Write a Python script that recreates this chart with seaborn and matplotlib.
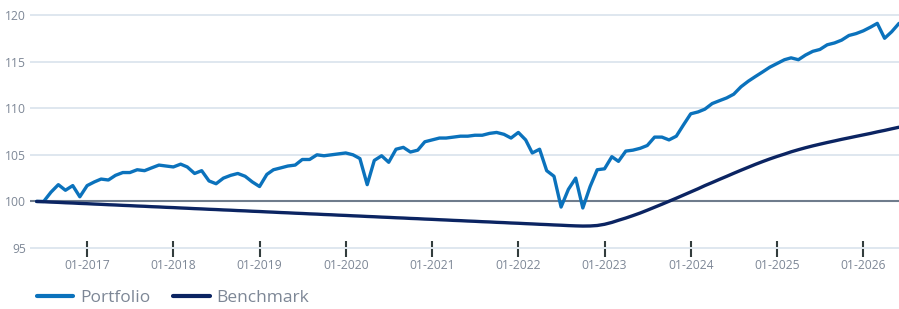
import numpy as np
import pandas as pd
import seaborn as sns
import matplotlib.pyplot as plt
import matplotlib.dates as mdates

sns.set_style('white')
plt.rcParams['font.family'] = ['Open Sans', 'DejaVu Sans']

# monthly points, 06-2016 .. 06-2026
months = pd.date_range('2016-06-01', periods=121, freq='MS')

portfolio = [
    100.0, 100.0, 101.0, 101.8, 101.2, 101.7, 100.5,
    101.7, 102.1, 102.4, 102.3, 102.8, 103.1, 103.1, 103.4, 103.3, 103.6, 103.9, 103.8,
    103.7, 104.0, 103.7, 103.0, 103.3, 102.2, 101.9, 102.5, 102.8, 103.0, 102.7, 102.1,
    101.6, 102.9, 103.4, 103.6, 103.8, 103.9, 104.5, 104.5, 105.0, 104.9, 105.0, 105.1,
    105.2, 105.0, 104.6, 101.8, 104.4, 104.9, 104.2, 105.6, 105.8, 105.3, 105.5, 106.4,
    106.6, 106.8, 106.8, 106.9, 107.0, 107.0, 107.1, 107.1, 107.3, 107.4, 107.2, 106.8,
    107.4, 106.6, 105.2, 105.6, 103.3, 102.7, 99.4, 101.3, 102.5, 99.3, 101.6, 103.4,
    103.5, 104.8, 104.3, 105.4, 105.5, 105.7, 106.0, 106.9, 106.9, 106.6, 107.0, 108.2,
    109.4, 109.6, 109.9, 110.5, 110.8, 111.1, 111.5, 112.3, 112.9, 113.4, 113.9, 114.4,
    114.8, 115.2, 115.4, 115.2, 115.7, 116.1, 116.3, 116.8, 117.0, 117.3, 117.8, 118.0,
    118.3, 118.7, 119.1, 117.5, 118.2, 119.1,
]

benchmark = [
    100.00, 99.97, 99.93, 99.90, 99.86, 99.83, 99.79,
    99.76, 99.72, 99.69, 99.65, 99.62, 99.58, 99.55, 99.51, 99.48, 99.44, 99.41, 99.37,
    99.34, 99.30, 99.27, 99.23, 99.20, 99.16, 99.13, 99.09, 99.06, 99.02, 98.99, 98.95,
    98.92, 98.88, 98.85, 98.81, 98.78, 98.74, 98.71, 98.67, 98.64, 98.60, 98.57, 98.53,
    98.50, 98.46, 98.43, 98.39, 98.36, 98.32, 98.29, 98.25, 98.22, 98.18, 98.15, 98.11,
    98.08, 98.04, 98.01, 97.97, 97.94, 97.90, 97.87, 97.83, 97.80, 97.76, 97.73, 97.69,
    97.66, 97.62, 97.59, 97.55, 97.52, 97.48, 97.45, 97.41, 97.38, 97.36, 97.37, 97.42,
    97.55, 97.75, 97.98, 98.22, 98.48, 98.76, 99.06, 99.38, 99.70, 100.02, 100.35, 100.68,
    101.02, 101.36, 101.70, 102.03, 102.36, 102.69, 103.02, 103.35, 103.67, 103.98, 104.28, 104.56,
    104.83, 105.08, 105.32, 105.55, 105.76, 105.96, 106.14, 106.32, 106.49, 106.66, 106.82, 106.98,
    107.14, 107.30, 107.46, 107.62, 107.79, 107.96,
]

series_names = ['Portfolio', 'Benchmark']
colors = {'Portfolio': '#0b72bc', 'Benchmark': '#0b2462'}
grey = '#7d8796'

df = pd.DataFrame({'date': months, 'Portfolio': portfolio, 'Benchmark': benchmark})
long = df.melt(id_vars='date', var_name='series', value_name='value')

fig = plt.figure(figsize=(8.99, 3.09), dpi=100)
ax = fig.add_axes([30 / 899, 1 - 249 / 309, 869 / 899, (249 - 10.3) / 309])

ax.axhline(100, color='#6f7c8c', lw=1.5, zorder=2)
sns.lineplot(data=long, x='date', y='value', hue='series', hue_order=series_names,
             palette=colors, linewidth=2.4, ax=ax, legend=False, zorder=3)

ax.set_ylim(94.9, 120.5)
ax.set_xlim(pd.Timestamp('2016-05-04'), pd.Timestamp('2026-06-01'))
ax.set_yticks([95, 100, 105, 110, 115, 120])
ax.yaxis.grid(True, color='#dfe7ef', lw=1.4)
ax.set_axisbelow(True)
for s in ax.spines.values():
    s.set_visible(False)

ax.xaxis.set_major_locator(mdates.YearLocator(month=1))
ax.xaxis.set_major_formatter(mdates.DateFormatter('%m-%Y'))
ax.tick_params(axis='x', bottom=True, direction='inout', length=11, width=1.5, color='#333d3d',
               labelcolor=grey, labelsize=8.7, pad=2)
ax.tick_params(axis='y', left=False, length=0, labelcolor=grey, labelsize=8.7, pad=3)
ax.set_xlabel('')
ax.set_ylabel('')

handles = [plt.Line2D([], [], color=colors[n], lw=3) for n in series_names]
fig.legend(handles, series_names, loc='center left', bbox_to_anchor=(37 / 899, 1 - 298 / 309),
           ncol=2, frameon=False, fontsize=12.5, handlelength=2.1, handletextpad=0.4,
           columnspacing=1.3, borderpad=0, borderaxespad=0, labelcolor=grey)

fig.savefig('out.png', dpi=100)
